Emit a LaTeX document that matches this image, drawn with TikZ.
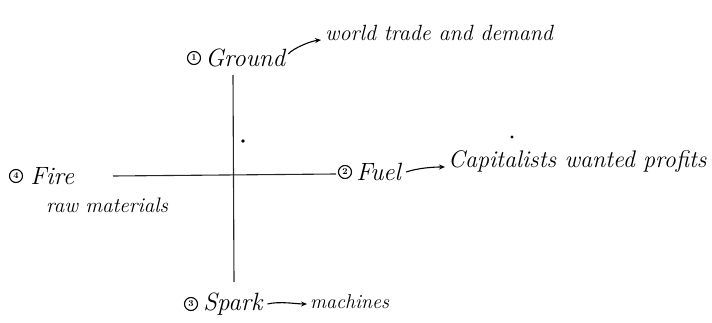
\documentclass[tikz,border=0pt]{standalone}
\usepackage{fontspec}
\usetikzlibrary{arrows.meta,positioning}
\begin{document}
\begin{tikzpicture}[x=1pt,y=-1pt,
  hand/.style={font=\itshape\fontsize{25}{25}\selectfont, inner sep=0pt, anchor=west},
  note/.style={inner sep=0pt, anchor=west},
  num/.style={circle, draw, line width=1.1pt, inner sep=1pt, minimum size=13pt, font=\bfseries\fontsize{9}{9}\selectfont},
  axis/.style={line width=1.1pt, black!85},
  arr/.style={line width=1.1pt, -{Stealth[length=6pt,width=5pt]}}]
\useasboundingbox (0,0) rectangle (712,323);
% axes
\coordinate (top) at (233,75);
\coordinate (bot) at (234,282);
\coordinate (left) at (113,176);
\coordinate (right) at (336,174);
\draw[axis] (top) -- (bot);
\draw[axis] (left) -- (right);
% stray marks
\fill (243,141) circle (1.8);
\fill (512,137) circle (1.6);
% labels
\node[num] (n1) at (194,58) {1};
\node[hand, right=4pt of n1] (ground) {Ground};
\node[note, font=\itshape\fontsize{22}{22}\selectfont] (trade) at (325,33) {world trade and demand};
\node[num] (n4) at (16,176) {4};
\node[hand, right=7pt of n4] (fire) {Fire};
\node[note, font=\itshape\fontsize{21}{21}\selectfont] (raw) at (46,205) {raw materials};
\node[num] (n2) at (345,172) {2};
\node[hand, right=4pt of n2] (fuel) {Fuel};
\node[note, font=\itshape\fontsize{24}{24}\selectfont] (cap) at (448,162) {Capitalists wanted profits};
\node[num] (n3) at (191,304) {3};
\node[hand, right=5pt of n3] (spark) {Spark};
\node[note, font=\itshape\fontsize{20}{20}\selectfont] (mach) at (310,302) {machines};
% arrows
\draw[arr] ([xshift=3pt,yshift=4pt]ground.east) .. controls +(5,-6) and +(-10,1) .. ([xshift=-4pt,yshift=-7pt]trade.west);
\draw[arr] ([xshift=5pt]fuel.east) .. controls +(12,-4) and +(-12,0) .. ([xshift=-3pt,yshift=-5pt]cap.west);
\draw[arr] ([xshift=5pt]spark.east) .. controls +(12,-3) and +(-10,0) .. ([xshift=-3pt,yshift=-2pt]mach.west);
\end{tikzpicture}
\end{document}
